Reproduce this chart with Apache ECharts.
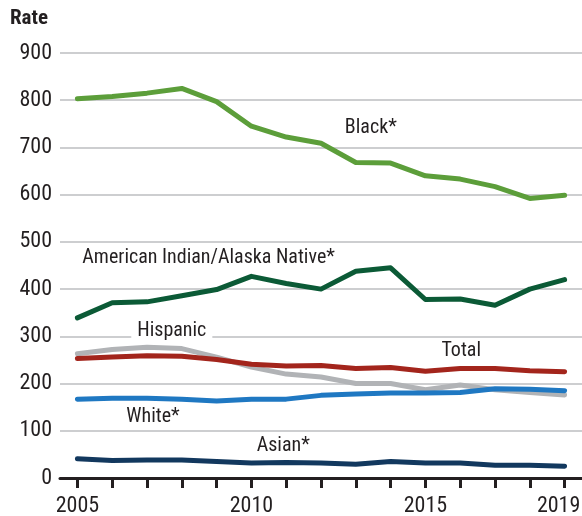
<!DOCTYPE html>
<html>
<head>
<meta charset="utf-8">
<script src="https://cdn.jsdelivr.net/npm/echarts@6/dist/echarts.min.js"></script>
<style>
  html, body { margin: 0; padding: 0; background: #fff; }
  #chart { width: 582px; height: 516px; }
</style>
</head>
<body>
<div id="chart"></div>
<script>
var years = ["2005","2006","2007","2008","2009","2010","2011","2012","2013","2014","2015","2016","2017","2018","2019"];
var shownYears = ["2005", "2010", "2015", "2019"];

var black    = [803, 808, 815, 825, 797, 745, 722, 709, 668, 667, 640, 633, 617, 592, 599];
var aian     = [339, 371, 373, 386, 399, 427, 412, 400, 438, 445, 378, 379, 366, 400, 420];
var hispanic = [263, 272, 277, 274, 256, 235, 220, 214, 200, 200, 187, 197, 187, 181, 176];
var total    = [253, 256, 259, 258, 251, 241, 237, 238, 232, 234, 226, 232, 232, 227, 225];
var white    = [167, 169, 169, 167, 163, 167, 167, 175, 178, 180, 180, 181, 189, 188, 185];
var asian    = [41, 37, 38, 38, 35, 32, 33, 32, 29, 35, 32, 32, 27, 27, 25];

var FONT = "'Roboto Condensed', 'DejaVu Sans Condensed', sans-serif";
var INK = "#231f20";

// label for a line, anchored at a data point (year, value)
function tag(text, year, value, dx, extra) {
  return {
    data: [{ coord: [year, value] }],
    symbol: "circle",
    symbolSize: 1,
    itemStyle: { color: "rgba(0,0,0,0)" },
    silent: true,
    label: Object.assign({
      show: true,
      formatter: text,
      color: INK,
      fontFamily: FONT,
      fontSize: 20,
      position: "inside",
      offset: [dx || 0, 0]
    }, extra || {})
  };
}

function line(name, data, color, mark) {
  return {
    name: name,
    type: "line",
    data: data,
    symbol: "none",
    smooth: false,
    lineStyle: { color: color, width: 5, cap: "round", join: "round" },
    markPoint: mark
  };
}

var myChart = echarts.init(document.getElementById("chart"));

var option = {
  animation: false,
  backgroundColor: "#fff",
  grid: { left: 60, right: 0, top: 53, bottom: 38, containLabel: false, outerBoundsMode: "none" },
  graphic: [{
    type: "text",
    left: 10,
    top: 8,
    style: { text: "Rate", font: "bold 21px " + FONT, fill: INK }
  }],
  xAxis: {
    type: "category",
    data: years,
    boundaryGap: true,
    axisLine: { lineStyle: { color: INK, width: 3 } },
    axisTick: { show: true, length: 10, lineStyle: { color: INK, width: 3 }, alignWithLabel: true, interval: 0 },
    axisLabel: {
      interval: 0,
      formatter: function (v) {
        if (shownYears.indexOf(v) < 0) return "";
        // last label nudged left so it stays inside the canvas
        return v === "2019" ? "{end|" + v + "}" : v;
      },
      color: INK,
      fontFamily: FONT,
      fontSize: 22,
      margin: 17,
      rich: {
        end: { color: INK, fontFamily: FONT, fontSize: 22, padding: [0, 12, 0, 0] }
      }
    },
    splitLine: { show: false }
  },
  yAxis: {
    type: "value",
    min: 0,
    max: 900,
    interval: 100,
    axisLine: { show: false },
    axisTick: { show: false },
    axisLabel: { color: INK, fontFamily: FONT, fontSize: 22, margin: 8 },
    splitLine: { lineStyle: { color: "#bcbec0", width: 1.5 } }
  },
  series: [
    line("Hispanic", hispanic, "#b1b3b6", tag("Hispanic", "2008", 311, -10, { backgroundColor: "#fff", padding: [0, 6] })),
    line("Total", total, "#a3251c", tag("Total", "2016", 268, 1)),
    line("White*", white, "#1f78c2", tag("White*", "2007", 130, 6)),
    line("Asian*", asian, "#12385e", tag("Asian*", "2011", 67, -3)),
    line("American Indian/Alaska Native*", aian, "#0b5a36", tag("American Indian/Alaska Native*", "2009", 466, -8)),
    line("Black*", black, "#5c9e3a", tag("Black*", "2013", 741, 15))
  ]
};

myChart.setOption(option);
</script>
</body>
</html>
